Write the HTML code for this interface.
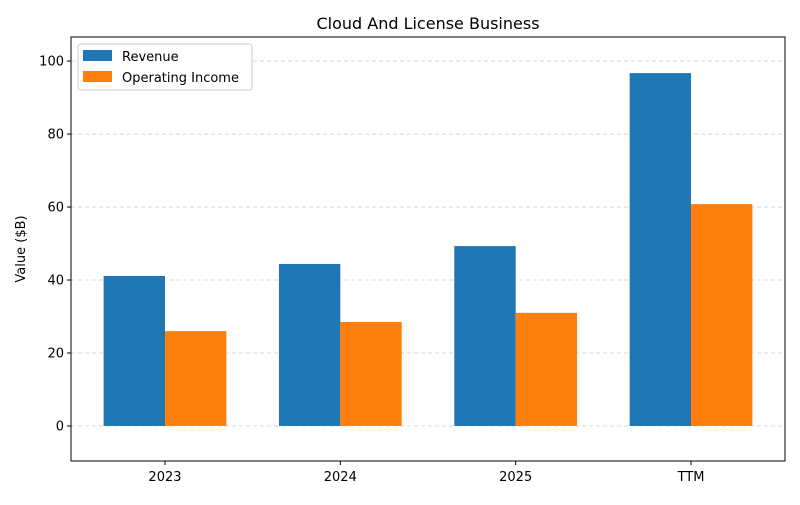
<!DOCTYPE html>
<html><head><meta charset="utf-8"><style>
body{margin:0;background:#fff;font-family:"Liberation Sans","DejaVu Sans",sans-serif;}
svg text{font-family:"DejaVu Sans","Liberation Sans",sans-serif;}
</style></head><body>
<svg id="chart" width="800" height="500" xmlns="http://www.w3.org/2000/svg">
<rect width="800" height="500" fill="#fff"/>
<text x="428" y="29" text-anchor="middle" font-size="16" fill="#000">Cloud And License Business</text>
<g id="grid"></g><g id="bars"></g><g id="axes"></g>
<text transform="translate(25,249) rotate(-90)" text-anchor="middle" font-size="13">Value ($B)</text>
<g>
<rect x="78" y="44" width="174" height="46" fill="#fff" stroke="#ccc" rx="3"/>
<rect x="83" y="50" width="29" height="11" fill="#1f77b4"/>
<text x="122" y="61" font-size="13">Revenue</text>
<rect x="83" y="71" width="29" height="11" fill="#ff7f0e"/>
<text x="122" y="82" font-size="13">Operating Income</text>
</g>
</svg>
<script>
const categories=["2023","2024","2025","TTM"];
const revenue=[41.1,44.4,49.3,96.7];
const operatingIncome=[26.0,28.5,31.0,60.8];
const yTicks=[0,20,40,60,80,100];
const L=71,R=785,T=37,B=461,yMin=-9.6,yMax=106.6,xMin=-0.536,xMax=3.536;
const ns="http://www.w3.org/2000/svg";
const y=v=>B-(v-yMin)/(yMax-yMin)*(B-T);
const x=v=>L+(v-xMin)/(xMax-xMin)*(R-L);
const grid=document.getElementById('grid'),bars=document.getElementById('bars'),axes=document.getElementById('axes');
function mk(t,a,p){const e=document.createElementNS(ns,t);for(const k in a)e.setAttribute(k,a[k]);p.appendChild(e);return e;}
yTicks.forEach(v=>{
 const g=mk('line',{x1:L,x2:R,y1:y(v),y2:y(v),stroke:'#ccc','stroke-dasharray':'4,3','stroke-width':0.8},grid);
 
 
 mk('line',{x1:L-4,x2:L,y1:y(v),y2:y(v),stroke:'#000'},axes);
 const t=mk('text',{x:L-7,y:y(v)+4.5,'text-anchor':'end','font-size':13},axes);t.textContent=v;
 
 
});
const bw=0.35,pxw=x(bw)-x(0);
categories.forEach((c,i)=>{
 const r=mk('rect',{x:x(i)-pxw,y:y(revenue[i]),width:pxw,height:y(0)-y(revenue[i]),fill:'#1f77b4'},bars);
 
 
 const o=mk('rect',{x:x(i),y:y(operatingIncome[i]),width:pxw,height:y(0)-y(operatingIncome[i]),fill:'#ff7f0e'},bars);
 
 
 mk('line',{x1:x(i),x2:x(i),y1:B,y2:B+4,stroke:'#000'},axes);
 const t=mk('text',{x:x(i),y:B+20,'text-anchor':'middle','font-size':13},axes);t.textContent=c;
 
 
});
const f=mk('rect',{x:L,y:T,width:R-L,height:B-T,fill:'none',stroke:'#000','stroke-width':1},axes);


</script>
</body></html>
